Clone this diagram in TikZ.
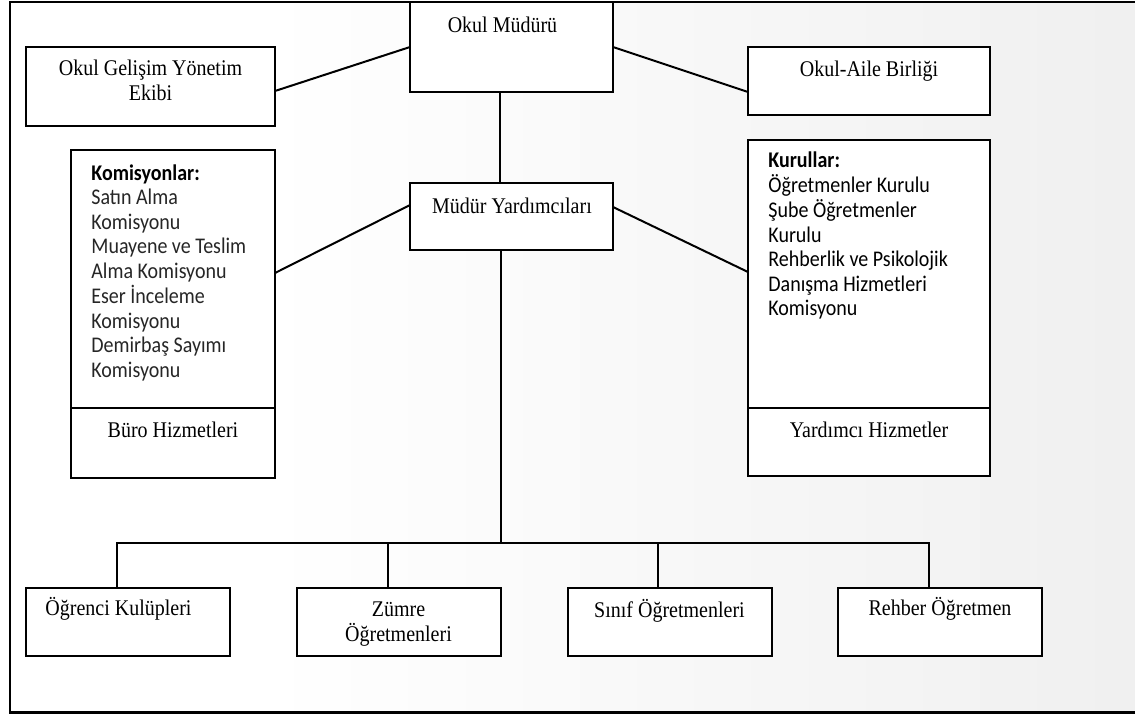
\documentclass[tikz,border=0pt]{standalone}
\usepackage{fontspec}
\usepackage{graphicx}
\setmainfont{Liberation Serif}
\newfontfamily\calib{Carlito}
\usetikzlibrary{calc}
\newcommand{\tall}[1]{\scalebox{1}[1.12]{#1}}
\newcommand{\clines}[1]{\begin{tabular}[t]{@{}c@{}}#1\end{tabular}}
\newcommand{\llines}[1]{\begin{tabular}[t]{@{}l@{}}#1\end{tabular}}
\tikzset{
  box/.style={draw=black, line width=1pt, fill=white, inner sep=0pt, outer sep=0pt},
  serif/.style={font=\fontsize{10}{12.5}\selectfont, inner sep=0pt, anchor=base},
  sans/.style={font=\calib\fontsize{10}{12.25}\selectfont, inner sep=0pt, anchor=base west},
  conn/.style={line width=1pt, black},
}
\begin{document}
\begin{tikzpicture}[x=0.5pt, y=-0.5pt]
\useasboundingbox (0,0) rectangle (1135,714);
% background
\fill[white] (0,0) rectangle (1135,714);
\shade[left color=white, right color=black!6] (265,2) rectangle (1140,712.5);
\draw[line width=1.3pt] (1140,2) -- (10,2) -- (10,712.5) -- (1140,712.5);

% boxes
\node[box, minimum width=101.5pt, minimum height=45pt] (OM) at (511.5,47) {};
\node[box, minimum width=124.5pt, minimum height=39.5pt] (OGYE) at (150.5,86.5) {};
\node[box, minimum width=121pt, minimum height=34pt] (OAB) at (869,81) {};
\node[box, minimum width=101.5pt, minimum height=33.5pt] (MY) at (511.5,216.5) {};
\node[box, minimum width=102pt, minimum height=129pt] (KOM) at (173,279) {};
\node[box, minimum width=102pt, minimum height=35pt] (BH) at (173,443) {};
\node[box, minimum width=121pt, minimum height=134pt] (KUR) at (869,274) {};
\node[box, minimum width=121pt, minimum height=34pt] (YH) at (869,442) {};
\node[box, minimum width=102pt, minimum height=34pt] (B1) at (128,622) {};
\node[box, minimum width=102pt, minimum height=34pt] (B2) at (398.5,622) {};
\node[box, minimum width=102pt, minimum height=34pt] (B3) at (669.5,622) {};
\node[box, minimum width=102pt, minimum height=34pt] (B4) at (940,622) {};

% connectors
\draw[conn] (OM.west) -- ($(OGYE.east)+(0,4.5)$);
\draw[conn] (OM.east) -- ($(OAB.west)+(0,11)$);
\draw[conn] ($(OM.south)+(-11.5,0)$) -- ($(MY.north)+(-11.5,0)$);
\draw[conn] ($(MY.west)+(0,-11.5)$) -- ($(KOM.east)+(0,-6)$);
\draw[conn] ($(MY.east)+(0,-9.5)$) -- ($(KUR.west)+(0,-2)$);
\coordinate (bus) at (500.5,543);
\draw[conn] ($(MY.south)+(-11,0)$) -- (bus);
\draw[conn] ($(B1.north)+(-11,0)$) |- ($(B4.north)+(-11.5,-45)$) -- ($(B4.north)+(-11.5,0)$);
\draw[conn] ($(B2.north)+(-11,0)$) -- ++(0,-45);
\draw[conn] ($(B3.north)+(-11.5,0)$) -- ++(0,-45);

% texts
\node[serif] (tOM) at (502.5,32) {\tall{Okul Müdürü}};
\node[serif] (tOGYE) at (150.5,75) {\clines{\tall{Okul Gelişim Yönetim}\\\tall{Ekibi}}};
\node[serif] (tOAB) at (869,76) {\tall{Okul-Aile Birliği}};
\node[serif] (tMY) at (512,213) {\tall{Müdür Yardımcıları}};
\node[sans] (tKOM) at (91,180) {\llines{\tall{\textbf{Komisyonlar:}}\\
  \tall{\textcolor{black!85}{Satın Alma}}\\
  \tall{\textcolor{black!85}{Komisyonu}}\\
  \tall{\textcolor{black!85}{Muayene ve Teslim}}\\
  \tall{\textcolor{black!85}{Alma Komisyonu}}\\
  \tall{\textcolor{black!85}{Eser İnceleme}}\\
  \tall{\textcolor{black!85}{Komisyonu}}\\
  \tall{\textcolor{black!85}{Demirbaş Sayımı}}\\
  \tall{\textcolor{black!85}{Komisyonu}}}};
\node[serif] (tBH) at (173,437) {\tall{Büro Hizmetleri}};
\node[sans] (tKUR) at (768,167) {\llines{\tall{\textbf{Kurullar:}}\\
  \tall{Öğretmenler Kurulu}\\
  \tall{Şube Öğretmenler}\\
  \tall{Kurulu}\\
  \tall{Rehberlik ve Psikolojik}\\
  \tall{Danışma Hizmetleri}\\
  \tall{Komisyonu}}};
\node[serif] (tYH) at (869,437) {\tall{Yardımcı Hizmetler}};
\node[serif] (tB1) at (118.5,615) {\tall{Öğrenci Kulüpleri}};
\node[serif] (tB2) at (398.5,616) {\clines{\tall{Zümre}\\\tall{Öğretmenleri}}};
\node[serif] (tB3) at (669.5,617) {\tall{Sınıf Öğretmenleri}};
\node[serif] (tB4) at (940,615) {\tall{Rehber Öğretmen}};
\end{tikzpicture}
\end{document}
